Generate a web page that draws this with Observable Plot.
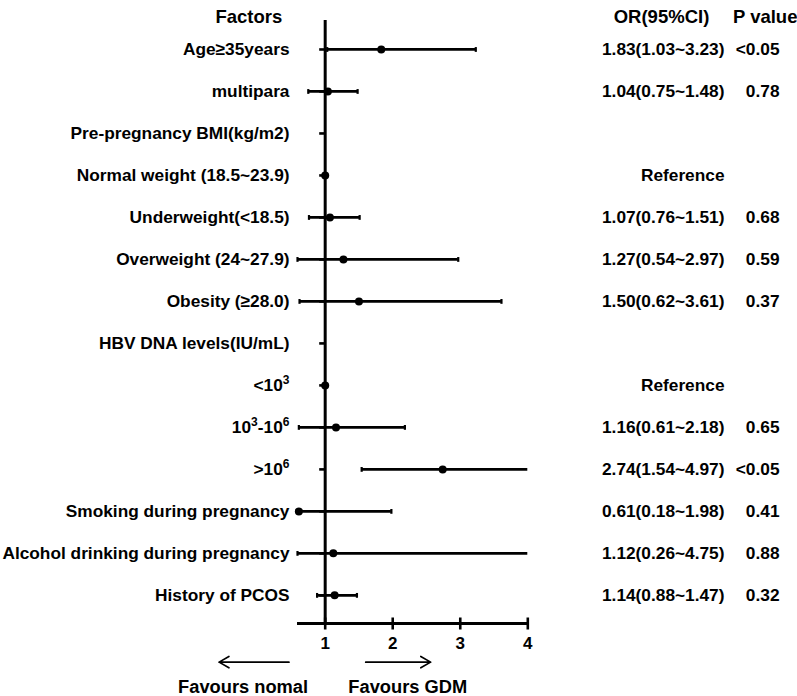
<!DOCTYPE html>
<html><head><meta charset="utf-8">
<script src="https://cdn.jsdelivr.net/npm/d3@7"></script>
<script src="https://cdn.jsdelivr.net/npm/@observablehq/plot@0.6"></script>
<style>body{margin:0;background:#fff}</style>
</head><body><div id="chart"></div>
<script>
// ---- data ----
const factors = [
  "Age≥35years",
  "multipara",
  "Pre-pregnancy BMI(kg/m2)",
  "Normal weight (18.5~23.9)",
  "Underweight(<18.5)",
  "Overweight (24~27.9)",
  "Obesity (≥28.0)",
  "HBV DNA levels(IU/mL)",
  "<10³",
  "10³-10⁶",
  ">10⁶",
  "Smoking during pregnancy",
  "Alcohol drinking during pregnancy",
  "History of PCOS"
];
const orValues = [1.83, 1.04, null, 1.00, 1.07, 1.27, 1.50, null, 1.00, 1.16, 2.74, 0.61, 1.12, 1.14];
const ciLower  = [1.03, 0.75, null, null, 0.76, 0.54, 0.62, null, null, 0.61, 1.54, 0.18, 0.26, 0.88];
const ciUpper  = [3.23, 1.48, null, null, 1.51, 2.97, 3.61, null, null, 2.18, 4.97, 1.98, 4.75, 1.47];
const orLabels = ["1.83(1.03~3.23)", "1.04(0.75~1.48)", "", "Reference", "1.07(0.76~1.51)",
  "1.27(0.54~2.97)", "1.50(0.62~3.61)", "", "Reference", "1.16(0.61~2.18)", "2.74(1.54~4.97)",
  "0.61(0.18~1.98)", "1.12(0.26~4.75)", "1.14(0.88~1.47)"];
const pLabels = ["<0.05", "0.78", "", "", "0.68", "0.59", "0.37", "", "", "0.65", "<0.05", "0.41", "0.88", "0.32"];
const xTicks = [1, 2, 3, 4];
const headerFactor = "Factors";
const headerOR = "OR(95%CI)";
const headerP = "P value";
const favourLabels = ["Favours nomal", "Favours GDM"];

// ---- layout ----
const xDomain = [0.59, 4];
const yDomain = [-0.69, 13.67];
const font = "'Liberation Sans', Arial, Helvetica, sans-serif";

const rows = factors.map((f, i) => ({
  i, factor: f, or: orValues[i], lo: ciLower[i], hi: ciUpper[i], orLabel: orLabels[i], p: pLabels[i]
}));
const ciRows = rows.filter(d => d.lo != null);
const caps = [];
ciRows.forEach(d => {
  caps.push({i: d.i, x: Math.max(d.lo, xDomain[0])});
  if (d.hi <= xDomain[1]) caps.push({i: d.i, x: d.hi});
});
const pointRows = rows.filter(d => d.or != null);

// annotation arrows (in scale units) and labels
const arrowY = 14.59, favourY = 15.19;
const arrows = [
  {x1: 0.464, x2: -0.571},
  {x1: 1.60, x2: 2.561}
];
const favours = [
  {x: -0.216, text: favourLabels[0]},
  {x: 2.222, text: favourLabels[1]}
];

const vLine = h => ({draw(ctx) { ctx.moveTo(0, -h); ctx.lineTo(0, h); }});
const hLineLeft = w => ({draw(ctx) { ctx.moveTo(-w, 0); ctx.lineTo(0, 0); }});

const chart = Plot.plot({
  width: 797,
  height: 696,
  marginLeft: 297,
  marginRight: 269.7,
  marginTop: 20,
  marginBottom: 73,
  style: {fontFamily: font, background: "#fff", color: "#000"},
  x: {domain: xDomain, axis: null},
  y: {domain: yDomain, reverse: true, axis: null},
  marks: [
    Plot.ruleX([1], {strokeWidth: 3}),
    Plot.ruleY([yDomain[1]], {strokeWidth: 3}),
    Plot.dot(xTicks, {x: d => d, frameAnchor: "bottom", symbol: vLine(6), stroke: "#000", fill: "none", strokeWidth: 2.6}),
    Plot.dot(rows, {x: () => 1, y: "i", symbol: hLineLeft(6), stroke: "#000", fill: "none", strokeWidth: 2.6}),
    Plot.ruleY(ciRows, {y: "i", x1: d => Math.max(d.lo, xDomain[0]), x2: d => Math.min(d.hi, xDomain[1]), strokeWidth: 2.8}),
    Plot.dot(caps, {x: "x", y: "i", symbol: vLine(2.4), stroke: "#000", fill: "none", strokeWidth: 2.2}),
    Plot.dot(pointRows, {x: "or", y: "i", r: 4, fill: "#000", stroke: "none"}),
    Plot.text(rows, {y: "i", text: "factor", frameAnchor: "left", dx: -8, textAnchor: "end", fontSize: 17.3, fontWeight: "bold"}),
    Plot.text(rows, {y: "i", text: "orLabel", frameAnchor: "right", dx: 196.7, textAnchor: "end", fontSize: 17.3, fontWeight: "bold"}),
    Plot.text(rows, {y: "i", text: "p", frameAnchor: "right", dx: 251.7, textAnchor: "end", fontSize: 17.3, fontWeight: "bold"}),
    Plot.text([headerFactor], {text: d => d, frameAnchor: "top-left", dx: -48.7, dy: -10.5, textAnchor: "middle", fontSize: 18.5, fontWeight: "bold"}),
    Plot.text([headerOR], {text: d => d, frameAnchor: "top-right", dx: 133.7, dy: -10.5, textAnchor: "middle", fontSize: 18.5, fontWeight: "bold"}),
    Plot.text([headerP], {text: d => d, frameAnchor: "top-right", dx: 237.4, dy: -10.5, textAnchor: "middle", fontSize: 18.5, fontWeight: "bold"}),
    Plot.axisX({ticks: xTicks, tickSize: 0, tickPadding: 13, tickFormat: d => String(d), fontSize: 17, fontWeight: "bold", label: null}),
    Plot.arrow(arrows, {x1: "x1", x2: "x2", y1: () => arrowY, y2: () => arrowY, headLength: 10, headAngle: 60, strokeWidth: 1.7}),
    Plot.text(favours, {x: "x", y: () => favourY, text: "text", textAnchor: "middle", fontSize: 18.3, fontWeight: "bold"})
  ]
});

// render Unicode superscript digits as raised, smaller real text
const supMap = {"³": "3", "⁶": "6"};
chart.querySelectorAll("text").forEach(t => {
  const s = t.textContent;
  if (!/[³⁶]/.test(s)) return;
  while (t.firstChild) t.removeChild(t.firstChild);
  for (const ch of s) {
    const span = document.createElementNS("http://www.w3.org/2000/svg", "tspan");
    if (supMap[ch]) {
      span.textContent = supMap[ch];
      span.setAttribute("baseline-shift", "super");
      span.setAttribute("font-size", "12");
    } else {
      span.textContent = ch;
    }
    t.appendChild(span);
  }
});

document.getElementById("chart").appendChild(chart);
</script>
</body></html>
